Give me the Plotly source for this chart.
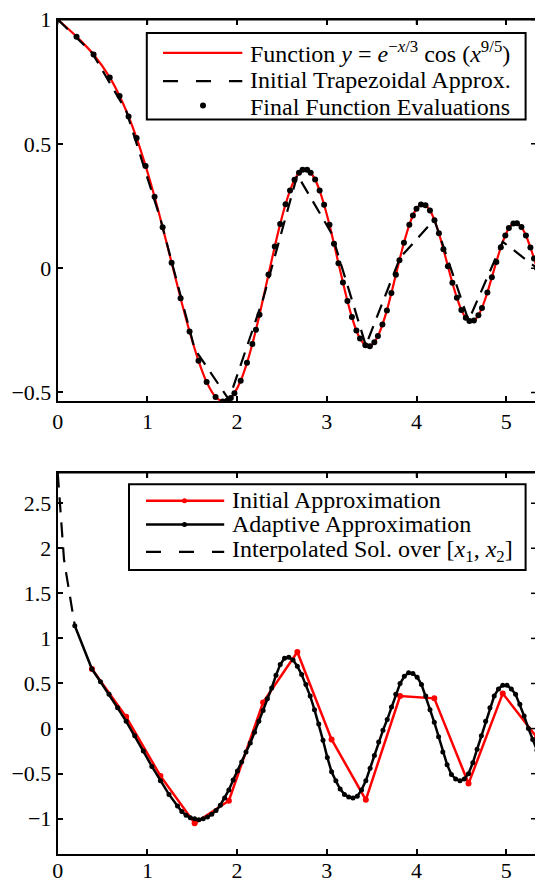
import plotly.graph_objects as go

# ---------------- data: top panel ----------------
eval_x = [0, 0.21, 0.40, 0.58, 0.69, 0.79, 0.88, 0.98, 1.08, 1.17,
          1.27, 1.37, 1.47, 1.57, 1.66, 1.76, 1.84, 1.89, 1.93, 1.97,
          2.04, 2.11, 2.17, 2.21, 2.25, 2.35, 2.42, 2.48, 2.54, 2.59,
          2.64, 2.69, 2.73, 2.78, 2.82, 2.87, 2.92, 2.97, 3.03, 3.08,
          3.13, 3.18, 3.23, 3.28, 3.33, 3.37, 3.43, 3.48, 3.53, 3.57,
          3.62, 3.67, 3.72, 3.77, 3.81, 3.86, 3.92, 3.96, 4.00, 4.05,
          4.10, 4.15, 4.20, 4.25, 4.30, 4.35, 4.40, 4.45, 4.50, 4.55,
          4.59, 4.64, 4.69, 4.73, 4.79, 4.84, 4.89, 4.94, 4.99, 5.03,
          5.08, 5.12, 5.17, 5.22, 5.27, 5.31, 5.343]
eval_y = [1.0, 0.931, 0.859, 0.767, 0.692, 0.610, 0.523, 0.411, 0.287, 0.164,
          0.022, -0.121, -0.255, -0.373, -0.458, -0.518, -0.536, -0.533, -0.522, -0.503,
          -0.453, -0.381, -0.305, -0.248, -0.187, -0.026, 0.087, 0.177, 0.257, 0.312,
          0.355, 0.384, 0.396, 0.396, 0.384, 0.356, 0.312, 0.255, 0.174, 0.098,
          0.020, -0.058, -0.132, -0.197, -0.251, -0.283, -0.310, -0.314, -0.298, -0.273,
          -0.227, -0.170, -0.100, -0.027, 0.032, 0.102, 0.174, 0.212, 0.239, 0.256,
          0.253, 0.232, 0.193, 0.140, 0.076, 0.008, -0.059, -0.119, -0.168, -0.200,
          -0.213, -0.211, -0.190, -0.160, -0.098, -0.037, 0.025, 0.084, 0.131, 0.161,
          0.180, 0.181, 0.165, 0.131, 0.083, 0.039, 0.0]

trap_x = [0, 0.3817, 0.7633, 1.145, 1.5266, 1.9083, 2.29, 2.6716, 3.0533,
          3.435, 3.8166, 4.1983, 4.58, 4.9616, 5.3433]
trap_y = [1.0, 0.867, 0.633, 0.198, -0.325, -0.529, -0.124, 0.375, 0.140,
          -0.311, 0.042, 0.195, -0.211, 0.106, 0.0]

# ---------------- data: bottom panel ----------------
init_x = [0.3817, 0.7633, 1.145, 1.5266, 1.9083, 2.29, 2.6716, 3.0533,
          3.435, 3.8166, 4.1983, 4.58, 4.9616, 5.3433]
init_y = [0.66, 0.13, -0.525, -1.05, -0.80, 0.29, 0.85, -0.12,
          -0.79, 0.36, 0.335, -0.61, 0.39, -0.10]

adapt_x = [0.1908, 0.3817, 0.4771, 0.5725, 0.6679, 0.7633, 0.8588, 0.9542, 1.0496, 1.145,
           1.2404, 1.3358, 1.3835, 1.4312, 1.4789, 1.5266, 1.5743, 1.622, 1.6698, 1.7175,
           1.7652, 1.8129, 1.8606, 1.9083, 1.956, 2.0037, 2.0514, 2.0991, 2.1469, 2.1946,
           2.2423, 2.29, 2.3377, 2.3854, 2.4331, 2.4808, 2.5285, 2.5762, 2.624, 2.6717,
           2.7194, 2.7671, 2.8148, 2.8625, 2.9102, 2.9579, 3.0056, 3.0533, 3.101, 3.1488,
           3.1965, 3.2442, 3.2919, 3.3396, 3.3873, 3.435, 3.4827, 3.5304, 3.5781, 3.6259,
           3.6736, 3.7213, 3.769, 3.8167, 3.8644, 3.9121, 3.9598, 4.0075, 4.0552, 4.1029,
           4.1506, 4.1983, 4.246, 4.2937, 4.3414, 4.3891, 4.4368, 4.4845, 4.5322, 4.58,
           4.6277, 4.6754, 4.7231, 4.7708, 4.8185, 4.8662, 4.9139, 4.9616, 5.0093, 5.057,
           5.1047, 5.1524, 5.2001, 5.2478, 5.2955, 5.3433]
adapt_y = [1.14, 0.66, 0.52, 0.38, 0.23, 0.08, -0.08, -0.25, -0.42, -0.58,
           -0.73, -0.86, -0.92, -0.96, -0.99, -1.0, -1.01, -1.0, -0.98, -0.95,
           -0.91, -0.85, -0.77, -0.68, -0.57, -0.47, -0.37, -0.26, -0.16, -0.04,
           0.08, 0.2, 0.33, 0.45, 0.59, 0.71, 0.78, 0.79, 0.76, 0.69,
           0.6, 0.49, 0.36, 0.21, 0.05, -0.13, -0.32, -0.48, -0.58, -0.67,
           -0.73, -0.76, -0.77, -0.75, -0.68, -0.58, -0.44, -0.3, -0.15, -0.02,
           0.1, 0.24, 0.38, 0.5, 0.58, 0.62, 0.61, 0.57, 0.49, 0.36,
           0.21, 0.07, -0.09, -0.26, -0.4, -0.51, -0.56, -0.58, -0.56, -0.5,
           -0.38, -0.23, -0.08, 0.08, 0.23, 0.36, 0.44, 0.48, 0.48, 0.44,
           0.38, 0.27, 0.14, 0.0, -0.12, -0.24]

interp_x = [0, 0.02, 0.035, 0.05, 0.07, 0.09, 0.118, 0.14, 0.17, 0.1908]
interp_y = [2.84, 2.55, 2.35, 2.1, 1.88, 1.75, 1.58, 1.42, 1.25, 1.14]

top_yticks = [-0.5, 0, 0.5, 1]
bot_yticks = [-1, -0.5, 0, 0.5, 1, 1.5, 2, 2.5]
xticks = [0, 1, 2, 3, 4, 5]

top_labels = ["Function <i>y</i> = <i>e</i><sup>\u2212<i>x</i>/3</sup> cos (<i>x</i><sup>9/5</sup>)",
              "Initial Trapezoidal Approx.",
              "Final Function Evaluations"]
bot_labels = ["Initial Approximation",
              "Adaptive Approximation",
              "Interpolated Sol. over [<i>x</i><sub>1</sub>, <i>x</i><sub>2</sub>]"]

# ---------------- figure ----------------
W, H = 535, 879
FONT = "Liberation Serif"


def PX(v):
    return v / W


def PY(v):
    return 1 - v / H


fig = go.Figure()
fig.add_trace(go.Scatter(x=eval_x, y=eval_y, mode="lines",
                         line=dict(color="#ff0000", width=2.2, shape="spline", smoothing=0.8),
                         xaxis="x", yaxis="y", showlegend=False))
fig.add_trace(go.Scatter(x=trap_x, y=trap_y, mode="lines",
                         line=dict(color="black", width=2.2, dash="14px,9px"),
                         xaxis="x", yaxis="y", showlegend=False))
fig.add_trace(go.Scatter(x=eval_x, y=eval_y, mode="markers",
                         marker=dict(color="black", size=6),
                         xaxis="x", yaxis="y", showlegend=False))

fig.add_trace(go.Scatter(x=init_x, y=init_y, mode="lines+markers",
                         line=dict(color="#ff0000", width=2.5),
                         marker=dict(color="#ff0000", size=6),
                         xaxis="x2", yaxis="y2", showlegend=False))
fig.add_trace(go.Scatter(x=adapt_x, y=adapt_y, mode="lines+markers",
                         line=dict(color="black", width=2.5),
                         marker=dict(color="black", size=5),
                         xaxis="x2", yaxis="y2", showlegend=False))
fig.add_trace(go.Scatter(x=interp_x, y=interp_y, mode="lines",
                         line=dict(color="black", width=2.2, dash="15px,10px"),
                         xaxis="x2", yaxis="y2", showlegend=False))

X_LEFT, X_RIGHT = 57.7, 535.0
TOP_T, TOP_B = 19.5, 401.4
BOT_T, BOT_B = 472.5, 853.9
x_dom = [PX(X_LEFT), PX(X_RIGHT)]
x_rng = [0, (X_RIGHT - X_LEFT) / 89.7]
axis_common = dict(showline=True, linewidth=2, linecolor="black", ticks="inside",
                   ticklen=5, tickwidth=1.5, tickcolor="black", showgrid=False,
                   zeroline=False, automargin=False, ticklabeloverflow="allow",
                   tickfont=dict(family=FONT, size=22, color="black"))

top_rng = [-0.536, 1.0]
bot_rng = [-1.39, 2.84]

fig.update_layout(
    width=W, height=H, margin=dict(l=0, r=0, t=0, b=0, autoexpand=False),
    paper_bgcolor="white", plot_bgcolor="white", showlegend=False,
    xaxis=dict(domain=x_dom, range=x_rng, anchor="y", tickvals=xticks, mirror="ticks",
               ticklabelstandoff=-1, **axis_common),
    yaxis=dict(domain=[PY(TOP_B), PY(TOP_T)], range=top_rng, anchor="x",
               tickvals=top_yticks, ticklabelstandoff=0, **axis_common),
    xaxis2=dict(domain=x_dom, range=x_rng, anchor="y2", tickvals=xticks, mirror="ticks",
                ticklabelstandoff=-4, **axis_common),
    yaxis2=dict(domain=[PY(BOT_B), PY(BOT_T)], range=bot_rng, anchor="x2",
                tickvals=bot_yticks, ticklabelstandoff=0, **axis_common),
)

shapes = []
annos = []

# top frame edge, its ticks, and tick stubs of the right frame edge
for xref, yref, top_px, yvals in (("x", "y", TOP_T, top_yticks), ("x2", "y2", BOT_T, bot_yticks)):
    shapes.append(dict(type="rect", xref="paper", yref="paper",
                       x0=PX(X_LEFT - 1), x1=PX(X_RIGHT), y0=PY(top_px + 1), y1=PY(top_px - 1),
                       line=dict(width=0), fillcolor="black", layer="above"))
    for v in xticks:
        shapes.append(dict(type="line", xref=xref, yref="paper",
                           x0=v, x1=v, y0=PY(top_px), y1=PY(top_px + 5),
                           line=dict(color="black", width=1.5), layer="above"))
    for v in yvals:
        shapes.append(dict(type="line", xref="paper", yref=yref,
                           x0=PX(X_RIGHT - 4), x1=PX(X_RIGHT), y0=v, y1=v,
                           line=dict(color="black", width=1.5), layer="above"))


def legend_box(x0, y0, x1, y1):
    shapes.append(dict(type="rect", xref="paper", yref="paper",
                       x0=PX(x0), x1=PX(x1), y0=PY(y1), y1=PY(y0),
                       line=dict(color="black", width=2), fillcolor="white", layer="above"))


def legend_line(x0, x1, y, color, dash="solid", width=2.2):
    shapes.append(dict(type="line", xref="paper", yref="paper",
                       x0=PX(x0), x1=PX(x1), y0=PY(y), y1=PY(y),
                       line=dict(color=color, width=width, dash=dash), layer="above"))


def legend_dot(x, y, r, color):
    shapes.append(dict(type="circle", xref="paper", yref="paper",
                       x0=PX(x - r), x1=PX(x + r), y0=PY(y + r), y1=PY(y - r),
                       line=dict(color=color, width=0), fillcolor=color, layer="above"))


def legend_text(x, y, txt):
    annos.append(dict(xref="paper", yref="paper", x=PX(x), y=PY(y), text=txt,
                      showarrow=False, xanchor="left", yanchor="middle",
                      font=dict(family=FONT, size=24, color="black")))


# top legend
legend_box(146.8, 33.1, 525.6, 119.5)
legend_line(163, 242.3, 52.9, "#ff0000")
legend_line(163, 242.3, 81.2, "black", dash="15px,18px")
legend_dot(203, 105.5, 3, "black")
for txt, yy in zip(top_labels, [52.0, 80.5, 106.5]):
    legend_text(248, yy, txt)

# bottom legend
legend_box(129, 484.3, 525.6, 570)
legend_line(146, 224.2, 500.7, "#ff0000", width=2.5)
legend_dot(184.5, 500.7, 2.5, "#ff0000")
legend_line(146, 224.2, 524.6, "black", width=2.5)
legend_dot(184.5, 524.6, 2.5, "black")
legend_line(146, 224.2, 551.9, "black", dash="15px,18px")
for txt, yy in zip(bot_labels, [500.0, 524.0, 551.0]):
    legend_text(230, yy, txt)

fig.update_layout(shapes=shapes, annotations=annos)
fig.write_html("out.html", config={"displayModeBar": False},
               post_script="document.body.style.margin='0';"
                           "document.body.style.overflow='hidden';")
